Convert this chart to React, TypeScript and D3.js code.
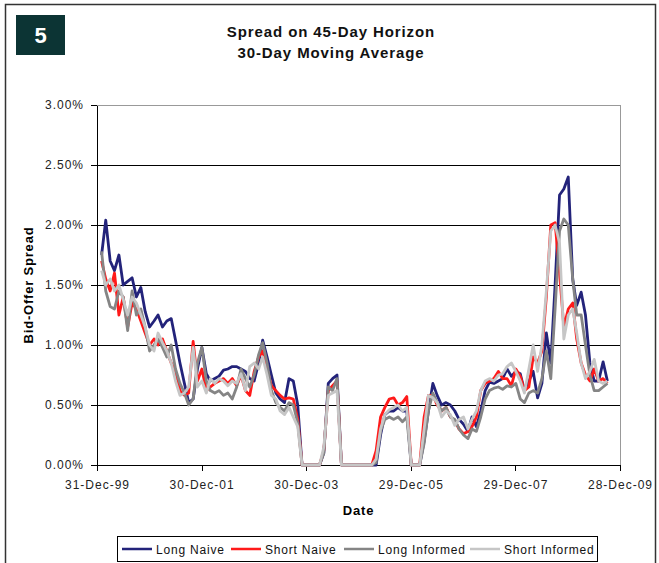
import { useEffect, useRef } from "react";
import * as d3 from "d3";

// monthly observations, Feb 2000 .. Oct 2009
const months = d3.timeMonth.range(new Date(2000, 1, 1), new Date(2009, 10, 1));

// 30-day moving average of bid-offer spread, in percent
const longNaive = [
  1.75, 2.04, 1.7, 1.62, 1.75, 1.5, 1.53, 1.56, 1.4, 1.48, 1.28,
  1.15, 1.2, 1.25, 1.15, 1.2, 1.22, 1.04, 0.85, 0.68, 0.52, 0.55, 0.8,
  0.98, 0.76, 0.7, 0.72, 0.74, 0.79, 0.8, 0.82, 0.82, 0.8, 0.78, 0.72,
  0.7, 0.85, 1.04, 0.9, 0.75, 0.6, 0.55, 0.52, 0.72, 0.7, 0.5, 0,
  0, 0, 0, 0, 0.1, 0.68, 0.72, 0.75, 0, 0, 0, 0,
  0, 0, 0, 0, 0, 0.25, 0.42, 0.45, 0.45, 0.48, 0.45, 0.45,
  0, 0, 0, 0.2, 0.45, 0.68, 0.58, 0.5, 0.52, 0.5, 0.45, 0.38,
  0.34, 0.28, 0.4, 0.32, 0.45, 0.62, 0.69, 0.68, 0.7, 0.72, 0.8, 0.74,
  0.78, 0.76, 0.62, 0.7, 0.78, 0.56, 0.68, 1.1, 0.85, 1.5, 2.25, 2.3,
  2.4, 1.55, 1.33, 1.44, 1.25, 0.85, 0.7, 0.7, 0.86, 0.7,
];
const shortNaive = [
  1.7, 1.55, 1.45, 1.6, 1.25, 1.4, 1.15, 1.35, 1.3, 1.2, 1.1,
  1.0, 1.05, 1.0, 1.05, 0.95, 0.85, 0.78, 0.62, 0.58, 0.6, 1.03, 0.7,
  0.8, 0.62, 0.65, 0.68, 0.7, 0.72, 0.68, 0.72, 0.66, 0.75, 0.62, 0.58,
  0.78, 0.9, 0.95, 0.8, 0.66, 0.62, 0.58, 0.55, 0.56, 0.55, 0.38, 0,
  0, 0, 0, 0, 0.12, 0.62, 0.66, 0.7, 0, 0, 0, 0,
  0, 0, 0, 0, 0.12, 0.4, 0.48, 0.55, 0.56, 0.5, 0.52, 0.57,
  0, 0, 0, 0.4, 0.58, 0.58, 0.5, 0.45, 0.48, 0.4, 0.37, 0.3,
  0.26, 0.28, 0.32, 0.4, 0.62, 0.68, 0.7, 0.72, 0.78, 0.72, 0.72, 0.66,
  0.8, 0.74, 0.62, 0.65, 0.9, 0.85, 0.95, 1.4, 2.0, 2.02, 1.6, 1.15,
  1.3, 1.35, 1.05, 0.85, 0.75, 0.7, 0.8, 0.7, 0.72, 0.68,
];
const longInformed = [
  1.78, 1.45, 1.32, 1.3, 1.45, 1.4, 1.12, 1.45, 1.25, 1.3, 1.15,
  0.95, 1.0, 1.05, 0.98, 0.9, 1.0, 0.8, 0.68, 0.6, 0.5, 0.55, 0.85,
  0.98, 0.7, 0.62, 0.6, 0.62, 0.58, 0.6, 0.55, 0.65, 0.8, 0.72, 0.65,
  0.75, 0.92, 1.02, 0.85, 0.62, 0.52, 0.48, 0.45, 0.52, 0.5, 0.35, 0,
  0, 0, 0, 0, 0.1, 0.65, 0.62, 0.72, 0, 0, 0, 0,
  0, 0, 0, 0, 0.02, 0.28, 0.38, 0.4, 0.38, 0.4, 0.36, 0.4,
  0, 0, 0, 0.18, 0.45, 0.6, 0.52, 0.45, 0.48, 0.4, 0.38, 0.3,
  0.25, 0.22, 0.3, 0.28, 0.4, 0.55, 0.62, 0.64, 0.65, 0.63, 0.66, 0.65,
  0.68, 0.55, 0.52, 0.6, 0.62, 0.6, 0.72, 0.95, 0.72, 1.3, 1.95, 2.05,
  2.0, 1.55, 1.25, 1.25, 1.0, 0.75, 0.62, 0.62, 0.65, 0.68,
];
const shortInformed = [
  1.62, 1.5, 1.55, 1.45, 1.5, 1.38, 1.25, 1.4, 1.35, 1.25, 1.15,
  1.0, 0.95, 1.1, 1.02, 0.95, 0.85, 0.7, 0.58, 0.6, 0.65, 0.98, 0.65,
  0.7, 0.6, 0.72, 0.68, 0.72, 0.7, 0.66, 0.7, 0.68, 0.76, 0.62, 0.82,
  0.85, 0.8, 0.9, 0.75, 0.58, 0.55, 0.45, 0.42, 0.48, 0.4, 0.32, 0,
  0, 0, 0, 0, 0.15, 0.58, 0.6, 0.62, 0, 0, 0, 0,
  0, 0, 0, 0, 0.05, 0.3, 0.42, 0.46, 0.48, 0.5, 0.45, 0.48,
  0, 0, 0, 0.3, 0.58, 0.56, 0.52, 0.4, 0.45, 0.42, 0.33, 0.38,
  0.4, 0.3, 0.38, 0.45, 0.62, 0.7, 0.72, 0.7, 0.75, 0.76, 0.82, 0.85,
  0.78, 0.7, 0.6, 0.8, 1.0, 0.78, 1.0, 1.45, 1.95, 2.0, 1.85, 1.05,
  1.25, 1.3, 1.1, 0.85, 0.72, 0.78, 0.88, 0.7, 0.68, 0.7,
];

const seriesNames = ["Long Naive", "Short Naive", "Long Informed", "Short Informed"];
const seriesColors = ["#23237a", "#ff1a1a", "#858585", "#c6c6c6"];

const tickDates = [
  new Date(1999, 11, 31),
  new Date(2001, 11, 30),
  new Date(2003, 11, 30),
  new Date(2005, 11, 29),
  new Date(2007, 11, 29),
  new Date(2009, 11, 28),
];
const tickLabels = ["31-Dec-99", "30-Dec-01", "30-Dec-03", "29-Dec-05", "29-Dec-07", "28-Dec-09"];
const yTicks = [0, 0.5, 1, 1.5, 2, 2.5, 3];

const FONT = "'Liberation Sans', Arial, sans-serif";

export default function App() {
  const svgRef = useRef<SVGSVGElement>(null);

  useEffect(() => {
    const svg = d3.select(svgRef.current);
    svg.selectAll("*").remove();

    const left = 97, right = 620, top = 105, bottom = 465;

    const x = d3.scaleTime().domain([tickDates[0], tickDates[5]]).range([left, right]);
    const y = d3.scaleLinear().domain([0, 3]).range([bottom, top]);

    // outer frame
    svg.append("rect")
      .attr("x", 5.5).attr("y", 4.5).attr("width", 650).attr("height", 620)
      .attr("fill", "#fff").attr("stroke", "#333").attr("stroke-width", 1.5);

    // exhibit number badge
    svg.append("rect")
      .attr("x", 16).attr("y", 15).attr("width", 49).attr("height", 40)
      .attr("fill", "#0c3434");
    svg.append("text")
      .attr("x", 40.5).attr("y", 43)
      .attr("text-anchor", "middle")
      .attr("fill", "#fff").attr("font-weight", "bold").attr("font-size", 22)
      .attr("font-family", FONT)
      .text("5");

    // titles
    const titles = ["Spread on 45-Day Horizon", "30-Day Moving Average"];
    titles.forEach((t, i) => {
      svg.append("text")
        .attr("x", 331).attr("y", 37 + i * 21)
        .attr("text-anchor", "middle")
        .attr("font-family", FONT).attr("font-weight", "bold").attr("font-size", 15)
        .style("letter-spacing", "0.9px")
        .attr("fill", "#111")
        .text(t);
    });

    // gridlines
    svg.append("g")
      .selectAll("line")
      .data(yTicks.filter((d) => d > 0))
      .enter()
      .append("line")
      .attr("x1", left).attr("x2", right)
      .attr("y1", (d) => y(d)).attr("y2", (d) => y(d))
      .attr("stroke", (d) => (d === 3 ? "#999" : "#000"))
      .attr("stroke-width", 1)
      .attr("shape-rendering", "crispEdges");
    svg.append("line")
      .attr("x1", right).attr("x2", right).attr("y1", top).attr("y2", bottom)
      .attr("stroke", "#999").attr("shape-rendering", "crispEdges");

    // axes
    const yAxis = svg.append("g")
      .attr("transform", `translate(${left},0)`)
      .call(
        d3.axisLeft(y).tickValues(yTicks).tickSize(6).tickSizeOuter(0).tickPadding(7)
          .tickFormat((d) => `${(+d).toFixed(2)}%`)
      );
    const xAxis = svg.append("g")
      .attr("transform", `translate(0,${bottom})`)
      .call(
        d3.axisBottom(x).tickValues(tickDates).tickSize(6).tickSizeOuter(0).tickPadding(9)
          .tickFormat((_, i) => tickLabels[i])
      );
    [yAxis, xAxis].forEach((g) => {
      g.selectAll("path").attr("stroke", "#000").attr("shape-rendering", "crispEdges");
      g.selectAll("line").attr("stroke", "#000").attr("shape-rendering", "crispEdges");
      g.selectAll("text")
        .attr("font-family", FONT).attr("font-size", 12).attr("fill", "#222")
        .style("letter-spacing", "1px");
    });

    // series
    const allSeries = [longNaive, shortNaive, longInformed, shortInformed];
    const line = d3.line<number>()
      .x((_, i) => x(months[i]))
      .y((d) => y(d));
    allSeries.forEach((vals, i) => {
      svg.append("path")
        .datum(vals)
        .attr("d", line)
        .attr("fill", "none")
        .attr("stroke", seriesColors[i])
        .attr("stroke-width", 2.8)
        .attr("stroke-linejoin", "round");
    });

    // axis titles
    svg.append("text")
      .attr("transform", `translate(33,${(top + bottom) / 2}) rotate(-90)`)
      .attr("text-anchor", "middle")
      .attr("font-family", FONT).attr("font-weight", "bold").attr("font-size", 13)
      .style("letter-spacing", "0.8px")
      .text("Bid-Offer Spread");
    svg.append("text")
      .attr("x", (left + right) / 2).attr("y", 515)
      .attr("text-anchor", "middle")
      .attr("font-family", FONT).attr("font-weight", "bold").attr("font-size", 13)
      .style("letter-spacing", "0.8px")
      .text("Date");

    // legend
    svg.append("rect")
      .attr("x", 117.5).attr("y", 536.5).attr("width", 480).attr("height", 25)
      .attr("fill", "#fff").attr("stroke", "#000");
    const legendX = [122, 231, 344, 470];
    const items = svg.append("g")
      .selectAll("g")
      .data(seriesNames)
      .enter()
      .append("g")
      .attr("transform", (_, i) => `translate(${legendX[i]},549)`);
    items.append("line")
      .attr("x1", 0).attr("x2", 30)
      .attr("stroke", (_, i) => seriesColors[i])
      .attr("stroke-width", 2.5);
    items.append("text")
      .attr("x", 34).attr("y", 4.5)
      .attr("font-family", FONT).attr("font-size", 12).attr("fill", "#111")
      .style("letter-spacing", "0.8px")
      .text((d) => d);
  }, []);

  return (
    <svg
      ref={svgRef}
      width={659}
      height={563}
      style={{ position: "absolute", left: 0, top: 0, background: "#fff" }}
    />
  );
}
